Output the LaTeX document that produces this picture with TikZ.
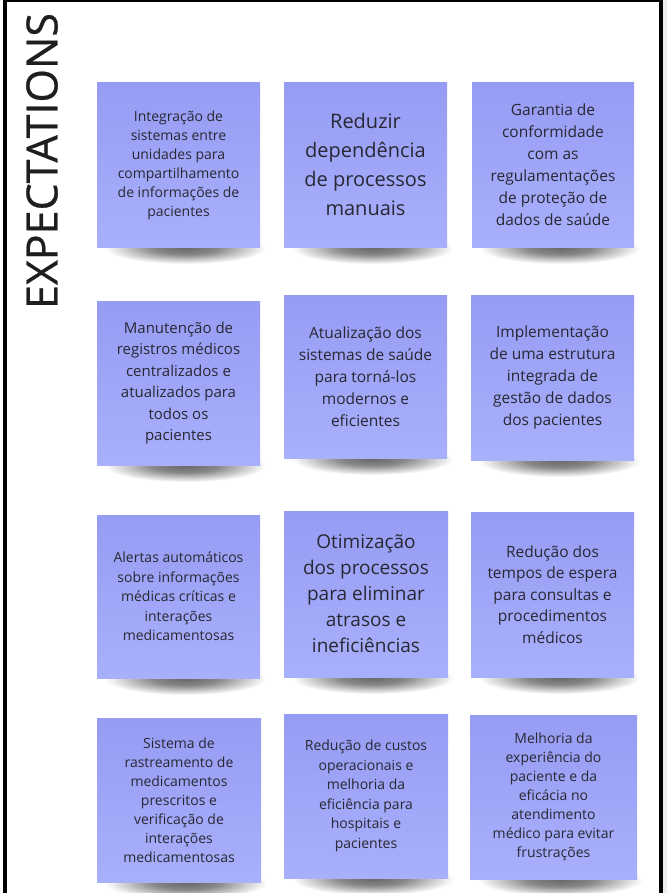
\documentclass[tikz,border=0pt]{standalone}
\usepackage{fontspec}
\setmainfont{Open Sans}
\newfontfamily\titlefont[FakeBold=0.6]{Open Sans}
\definecolor{notetop}{RGB}{150,156,243}
\definecolor{notebot}{RGB}{168,176,252}
\definecolor{ink}{RGB}{40,40,50}
\definecolor{titleink}{RGB}{30,30,30}
\definecolor{shadowc}{RGB}{105,105,105}
\pgfdeclareradialshading{notesh}{\pgfpointorigin}{color(0bp)=(shadowc); color(10bp)=(shadowc!80!white); color(25bp)=(white); color(50bp)=(white)}
\tikzset{
  note/.style={rectangle, inner sep=0pt, top color=notetop, bottom color=notebot,
    draw=none, align=center, text=ink},
  frameline/.style={draw=black, line width=#1},
  titletext/.style={rotate=90, inner sep=0pt, text=titleink, font=\titlefont\fontsize{43}{43}\selectfont},
}
\newcommand\sticky[8]{%
  \path[shading=notesh] ({(#2+#4)/2+7},{#5+1}) ellipse [x radius={(#4-#2)/2-1}, y radius=16];
  \node[note, minimum width={(#4-#2)*1pt}, minimum height={(#5-#3)*1pt},
    font=\fontsize{#6}{#7}\selectfont] (#1) at ({(#2+#4)/2},{(#3+#5)/2}) {#8};
}
\begin{document}
\begin{tikzpicture}[x=1pt,y=-1pt]
\useasboundingbox (0,0) rectangle (667,893);
\fill[white] (0,0) rectangle (667,893);
\fill[black!7] (663,0) rectangle (667,893);
% frame
\draw[frameline=2pt] (3,1) -- (663,1);
\draw[frameline=4pt] (4.7,0) -- (4.7,893);
\draw[frameline=4pt] (661,0) -- (661,893);
% title
\node[titletext] (title) at (42,161) {EXPECTATIONS};
% notes
\sticky{n11}{97}{83}{260}{247}{14}{19}{Integração de\\sistemas entre\\unidades para\\compartilhamento\\de informações de\\pacientes}
\sticky{n12}{284}{83}{447}{247}{20}{29}{Reduzir\\dependência\\de processos\\manuais}
\sticky{n13}{472}{83}{634}{247}{15.5}{22}{Garantia de\\conformidade\\com as\\regulamentações\\de proteção de\\dados de saúde}
\sticky{n21}{97}{301}{260}{465}{15}{21.5}{Manutenção de\\registros médicos\\centralizados e\\atualizados para\\todos os\\pacientes}
\sticky{n22}{284}{295}{447}{458}{15.5}{22}{Atualização dos\\sistemas de saúde\\para torná-los\\modernos e\\eficientes}
\sticky{n23}{471}{295}{634}{460}{15.5}{22}{Implementação\\de uma estrutura\\integrada de\\gestão de dados\\dos pacientes}
\sticky{n31}{97}{515}{260}{678}{14}{19.5}{Alertas automáticos\\sobre informações\\médicas críticas e\\interações\\medicamentosas}
\sticky{n32}{284}{511}{448}{677}{19}{26}{Otimização\\dos processos\\para eliminar\\atrasos e\\ineficiências}
\sticky{n33}{471}{512}{634}{677}{15.5}{21.5}{Redução dos\\tempos de espera\\para consultas e\\procedimentos\\médicos}
\sticky{n41}{97}{718}{261}{882}{14}{19}{Sistema de\\rastreamento de\\medicamentos\\prescritos e\\verificação de\\interações\\medicamentosas}
\sticky{n42}{284}{714}{448}{878}{14}{19.5}{Redução de custos\\operacionais e\\melhoria da\\eficiência para\\hospitais e\\pacientes}
\sticky{n43}{470}{715}{637}{879}{14}{19}{Melhoria da\\experiência do\\paciente e da\\eficácia no\\atendimento\\médico para evitar\\frustrações}
\end{tikzpicture}
\end{document}
